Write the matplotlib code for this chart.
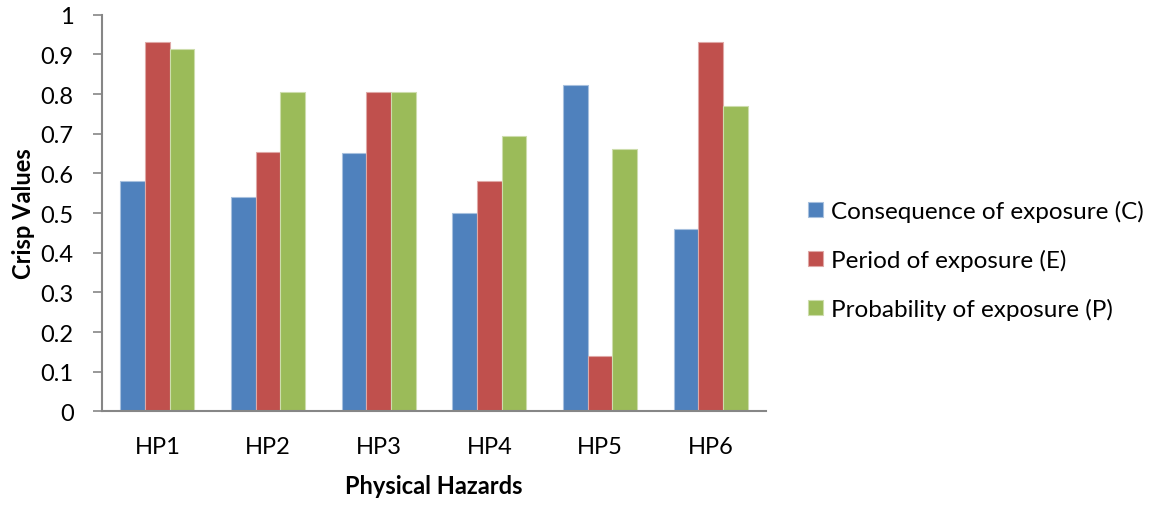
import numpy as np
import matplotlib
matplotlib.use("Agg")
import matplotlib.pyplot as plt

plt.rcParams['font.family'] = ['Lato', 'DejaVu Sans']

categories = ["HP1", "HP2", "HP3", "HP4", "HP5", "HP6"]
consequence = [0.58, 0.54, 0.652, 0.50, 0.824, 0.46]
period = [0.932, 0.655, 0.804, 0.58, 0.14, 0.932]
probability = [0.913, 0.804, 0.804, 0.695, 0.661, 0.77]
series_labels = ["Consequence of exposure (C)", "Period of exposure (E)",
                 "Probability of exposure (P)"]
colors = ["#4F81BD", "#C0504D", "#9BBB59"]
edges = ["#A7C0DE", "#DFA8A6", "#CDDDAC"]

fig = plt.figure(figsize=(11.55, 5.06), dpi=100)
ax = fig.add_axes([0.0883, 0.185, 0.575, 0.784])

x = np.arange(len(categories))
w = 0.223
for i, (vals, c, ec, lab) in enumerate(zip([consequence, period, probability],
                                           colors, edges, series_labels)):
    ax.bar(x + (i - 1) * w, vals, width=w, color=c, edgecolor=ec,
           linewidth=0.8, label=lab)

ax.set_xlim(-0.5, len(categories) - 0.5)
ax.set_ylim(0, 1)
ax.set_yticks(np.arange(0, 1.01, 0.1))
ax.set_yticklabels(["0", "0.1", "0.2", "0.3", "0.4", "0.5", "0.6", "0.7",
                    "0.8", "0.9", "1"])
ax.set_xticks(x)
ax.set_xticklabels(categories)

gray = "#868686"
for s in ["top", "right"]:
    ax.spines[s].set_visible(False)
for s in ["left", "bottom"]:
    ax.spines[s].set_color(gray)
    ax.spines[s].set_linewidth(1.5)
ax.tick_params(axis="y", direction="out", length=6.5, width=1.2, color=gray,
               labelsize=17, pad=14)
ax.tick_params(axis="x", length=0, labelsize=17, pad=18)

ax.set_ylabel("Crisp Values", fontsize=17, fontweight="bold", labelpad=4)
ax.set_xlabel("Physical Hazards", fontsize=17, fontweight="bold", labelpad=12)

fig.legend(loc="center left", bbox_to_anchor=(0.681, 0.484), frameon=False,
           fontsize=17.5, handlelength=0.58, handleheight=0.58,
           handletextpad=0.33, labelspacing=1.1)

fig.savefig("out.png", dpi=100)
